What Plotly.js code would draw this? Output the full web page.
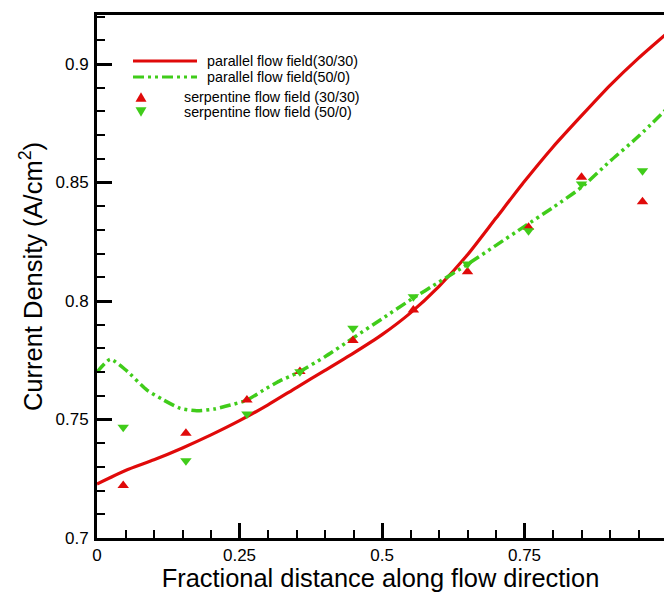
<!DOCTYPE html>
<html>
<head>
<meta charset="utf-8">
<script src="https://cdn.plot.ly/plotly-3.0.1.min.js"></script>
<style>html,body{margin:0;padding:0;background:#fff;}#chart{width:664px;height:592px;}</style>
</head>
<body>
<div id="chart"></div>
<script>
// Parallel flow field (30/30) - solid red curve
const parallel3030X = [0, 0.05, 0.10, 0.15, 0.20, 0.25, 0.30, 0.35, 0.40, 0.45, 0.50, 0.55, 0.60, 0.65, 0.70, 0.75, 0.80, 0.85, 0.90, 0.95, 1.0];
const parallel3030Y = [0.7228, 0.7285, 0.7330, 0.7380, 0.7435, 0.7495, 0.7562, 0.7635, 0.7707, 0.7780, 0.7858, 0.7950, 0.8062, 0.8195, 0.8350, 0.8505, 0.8650, 0.8782, 0.8910, 0.9025, 0.9130];

// Parallel flow field (50/0) - dash-dot-dot green curve
const parallel500X = [0, 0.0234, 0.05, 0.0877, 0.117, 0.146, 0.175, 0.205, 0.234, 0.263, 0.292, 0.32, 0.35, 0.40, 0.45, 0.50, 0.55, 0.60, 0.65, 0.70, 0.75, 0.80, 0.85, 0.90, 0.95, 1.0];
const parallel500Y = [0.7700, 0.7754, 0.7710, 0.7624, 0.7582, 0.7547, 0.7537, 0.7544, 0.7561, 0.7582, 0.7624, 0.7662, 0.7695, 0.7765, 0.7845, 0.7925, 0.8005, 0.8080, 0.8155, 0.8235, 0.8315, 0.8395, 0.8480, 0.8590, 0.8695, 0.8812];

// Serpentine flow field points
const serpX = [0.046, 0.156, 0.263, 0.356, 0.449, 0.555, 0.650, 0.757, 0.850, 0.957];
const serp3030Y = [0.7222, 0.7442, 0.7582, 0.7703, 0.7833, 0.7962, 0.8124, 0.8311, 0.8522, 0.8419];
const serp500Y = [0.7467, 0.7326, 0.7523, 0.7702, 0.7885, 0.8018, 0.8156, 0.8297, 0.8494, 0.8550];

const seriesNames = ["parallel flow field(30/30)", "parallel flow field(50/0)", "serpentine flow field (30/30)", "serpentine flow field (50/0)"];
const xTickVals = [0, 0.25, 0.5, 0.75];
const xTickText = ["0", "0.25", "0.5", "0.75"];
const yTickVals = [0.7, 0.75, 0.8, 0.85, 0.9];
const yTickText = ["0.7", "0.75", "0.8", "0.85", "0.9"];

const RED = "#e00a0a";
const GREEN = "#40cc1a";
const GREEN_DASH = "11px,4px,3px,4px,3px,4px";
const FONT = "Liberation Sans, Arial, Helvetica, sans-serif";

// figure geometry
const W = 664, H = 592, ML = 97, MR = 0, MT = 15, MB = 54;
const PW = W - ML - MR, PH = H - MT - MB;
const px = v => (v - ML) / PW;        // pixel x -> paper x
const py = v => (H - MB - v) / PH;    // pixel y -> paper y

const traces = [
  {x: parallel3030X, y: parallel3030Y, name: seriesNames[0], mode: "lines", type: "scatter",
   line: {color: RED, width: 3.2, shape: "spline", smoothing: 0.6}},
  {x: parallel500X, y: parallel500Y, name: seriesNames[1], mode: "lines", type: "scatter",
   line: {color: GREEN, width: 3.5, shape: "spline", smoothing: 0.6, dash: GREEN_DASH}},
  {x: serpX, y: serp3030Y, name: seriesNames[2], mode: "markers", type: "scatter",
   marker: {symbol: "triangle-up", size: 10, color: RED}},
  {x: serpX, y: serp500Y, name: seriesNames[3], mode: "markers", type: "scatter",
   marker: {symbol: "triangle-down", size: 10, color: GREEN}}
];

// hand-made legend (positions in pixels converted to paper coordinates)
const legendRows = [
  {kind: "line", color: RED, dash: "solid", y: 61, textX: 205},
  {kind: "line", color: GREEN, dash: GREEN_DASH, y: 77, textX: 205},
  {kind: "up", color: RED, y: 97, textX: 182},
  {kind: "down", color: GREEN, y: 112, textX: 182}
];
const shapes = [];
const annotations = [];
legendRows.forEach((r, i) => {
  if (r.kind === "line") {
    shapes.push({type: "line", xref: "paper", yref: "paper", x0: px(133), x1: px(197), y0: py(r.y), y1: py(r.y),
                 line: {color: r.color, width: 3, dash: r.dash}});
  } else {
    const cx = 141, hw = 5.5, hh = 4.8;
    const tipY = r.kind === "up" ? r.y - hh : r.y + hh;
    const baseY = r.kind === "up" ? r.y + hh : r.y - hh;
    const path = "M" + px(cx - hw) + "," + py(baseY) + " L" + px(cx + hw) + "," + py(baseY) + " L" + px(cx) + "," + py(tipY) + " Z";
    shapes.push({type: "path", xref: "paper", yref: "paper", path: path, fillcolor: r.color, line: {width: 0}});
  }
  annotations.push({xref: "paper", yref: "paper", x: px(r.textX), y: py(r.y), xanchor: "left", yanchor: "middle",
                    text: seriesNames[i], showarrow: false, font: {family: FONT, size: 14.3, color: "#000"}});
});

const layout = {
  width: W, height: H,
  margin: {l: ML, r: MR, t: MT, b: MB},
  paper_bgcolor: "#fff", plot_bgcolor: "#fff",
  font: {family: FONT, color: "#000"},
  showlegend: false,
  shapes: shapes,
  annotations: annotations,
  xaxis: {
    range: [0, 0.9947], showgrid: false, zeroline: false,
    showline: true, linecolor: "#000", linewidth: 3, mirror: true,
    ticks: "inside", ticklen: 15, tickwidth: 3, tickcolor: "#000",
    tickvals: xTickVals, ticktext: xTickText,
    tickfont: {family: FONT, size: 17, color: "#000"},
    minor: {dtick: 0.05, tick0: 0, ticks: "inside", ticklen: 8, tickwidth: 2, tickcolor: "#000", showgrid: false},
    title: {text: "Fractional distance along flow direction", font: {family: FONT, size: 25.4, color: "#000"}, standoff: 2}
  },
  yaxis: {
    range: [0.7, 0.9207], showgrid: false, zeroline: false,
    showline: true, linecolor: "#000", linewidth: 3,
    ticks: "inside", ticklen: 15, tickwidth: 3, tickcolor: "#000",
    tickvals: yTickVals, ticktext: yTickText,
    tickfont: {family: FONT, size: 17, color: "#000"},
    ticklabelstandoff: 2,
    minor: {dtick: 0.01, tick0: 0.7, ticks: "inside", ticklen: 8, tickwidth: 2, tickcolor: "#000", showgrid: false},
    title: {text: "Current Density (A/cm<sup>2</sup>)", font: {family: FONT, size: 25.5, color: "#000"}, standoff: 6}
  }
};

Plotly.newPlot("chart", traces, layout, {displayModeBar: false, staticPlot: true});
</script>
</body>
</html>
